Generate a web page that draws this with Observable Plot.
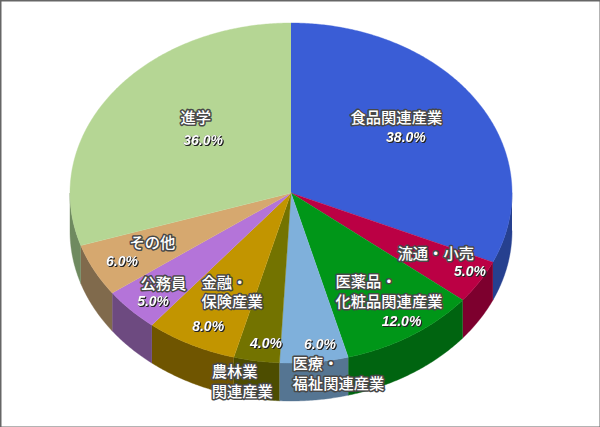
<!DOCTYPE html>
<html><head><meta charset="utf-8">
<script src="https://cdn.jsdelivr.net/npm/d3@7"></script>
<script src="https://cdn.jsdelivr.net/npm/@observablehq/plot@0.6"></script>
<style>html,body{margin:0;padding:0;background:#fff}svg{display:block}</style>
</head><body><div id="chart"></div>
<script>
const categories = ["食品関連産業","流通・小売","医薬品・\n化粧品関連産業","医療・\n福祉関連産業","農林業\n関連産業","金融・\n保険産業","公務員","その他","進学"];
const values = [38,5,12,6,4,8,5,6,36];
const topColors = ["#3a5dd6","#bb0044","#009618","#7fb0db","#737300","#c29500","#b474d9","#d6a86f","#b5d694"];
const sideColors = ["#26408f","#7d002e","#006410","#557592","#4d4d00","#6f5500","#6d4a80","#806a4c","#6f8a60"];
const nameX = [0.269,0.482,0.201,0.007,-0.359,-0.405,-0.681,-0.731,-0.500];
const nameY = [0.447,-0.353,-0.575,-1.056,-1.106,-0.577,-0.529,-0.288,0.447];
const pctX = [0.520,0.810,0.500,0.131,-0.113,-0.375,-0.624,-0.765,-0.398];
const pctY = [0.329,-0.459,-0.753,-0.888,-0.882,-0.782,-0.635,-0.400,0.312];

const total = d3.sum(values);
const depth = 0.2235;
const turn = 2 * Math.PI / total;
let acc = 0;
const topRows = [], sideRows = [];
values.forEach((v, i) => {
  const a0 = acc, a1 = acc + v; acc = a1;
  const steps = Math.ceil(v * 6);
  const arc = [];
  for (let s = 0; s <= steps; s++) arc.push((a0 + (a1 - a0) * s / steps) * turn);
  topRows.push({k: i, x: 0, y: 0, c: topColors[i]});
  arc.forEach(t => topRows.push({k: i, x: Math.sin(t), y: Math.cos(t), c: topColors[i]}));
  const front = arc.filter(t => Math.cos(t) <= 0);
  if (front.length) {
    const lo = Math.max(a0 * turn, Math.PI / 2), hi = Math.min(a1 * turn, 3 * Math.PI / 2);
    const ts = [lo, ...front.filter(t => t > lo && t < hi), hi];
    ts.forEach(t => sideRows.push({k: i, x: Math.sin(t), y: Math.cos(t), c: sideColors[i]}));
    ts.slice().reverse().forEach(t => sideRows.push({k: i, x: Math.sin(t), y: Math.cos(t) - depth, c: sideColors[i]}));
  }
});
const names = categories.map((c, i) => ({t: c, x: nameX[i], y: nameY[i]}));
const pcts = values.map((v, i) => ({t: v.toFixed(1) + "%", x: pctX[i], y: pctY[i]}));

const chart = Plot.plot({
  width: 600, height: 427,
  margin: 0,
  style: {background: "#fff"},
  x: {domain: [-1, 1], range: [69.5, 511.5], axis: null},
  y: {domain: [1, -1], range: [22.5, 362.5], axis: null},
  color: {type: "identity"},
  marks: [
    Plot.line(sideRows, {x: "x", y: "y", z: "k", fill: "c", stroke: "c", strokeWidth: 0.4}),
    Plot.line(topRows, {x: "x", y: "y", z: "k", fill: "c", stroke: "c", strokeWidth: 0.4}),
    Plot.text(names, {x: "x", y: "y", text: "t", textAnchor: "start", lineAnchor: "middle", lineHeight: 1.3,
      fill: "#fff", stroke: "#484848", strokeWidth: 3,
      fontFamily: "'Noto Sans CJK JP'", fontSize: 15.3, fontWeight: 500}),
    Plot.text(pcts, {x: "x", y: "y", dy: 0.7, text: "t", fill: "#fff",
      fontFamily: "'Liberation Sans'", fontSize: 14, fontWeight: "bold", fontStyle: "italic",
      imageFilter: "drop-shadow(1px 1px 0.6px #222) drop-shadow(0 0 0.6px #444)"}),
    Plot.frame({stroke: "#666", strokeWidth: 2})
  ]
});
document.getElementById("chart").append(chart);
</script></body></html>
